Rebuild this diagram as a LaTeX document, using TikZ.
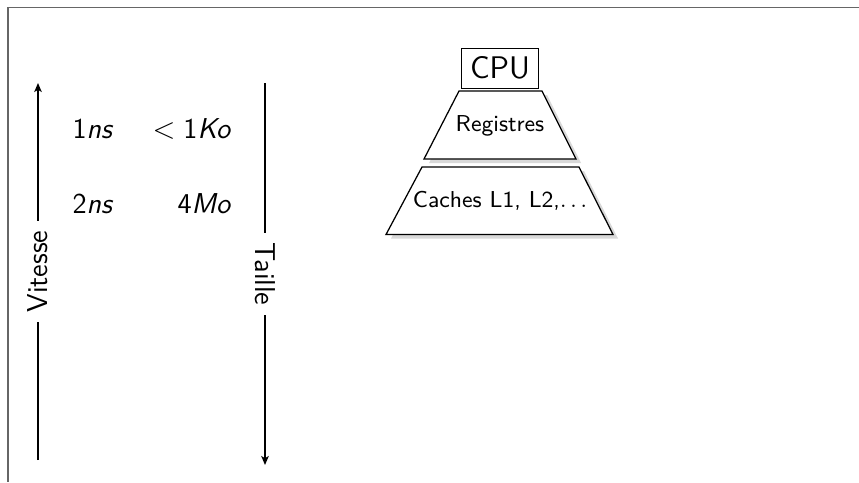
\documentclass[tikz,border=0pt]{standalone}
\usepackage{fontspec}
\usetikzlibrary{shadows,arrows.meta}
\begin{document}
\begin{tikzpicture}[x=0.4pt,y=-0.4pt,
  font=\sffamily\fontsize{11.5}{13.5}\selectfont,
  axisline/.style={line width=0.6pt, -{Stealth[length=3.6pt,width=3pt,inset=0.9pt]}},
  lbl/.style={inner sep=0pt},
  level/.style={draw, line width=0.5pt, fill=white,
    drop shadow={shadow xshift=2pt, shadow yshift=-1.6pt, fill=black!15, opacity=1}},
  smalltext/.style={font=\sffamily\fontsize{9.2}{11}\selectfont}]
\useasboundingbox (0,0) rectangle (859,482);
% frame
\draw[black!60, line width=0.75pt] (859,7.5) -- (8,7.5) -- (8,482);
% axes
\coordinate (vb) at (38,460);
\coordinate (vt) at (38,83);
\coordinate (tt) at (265,83);
\coordinate (tb) at (265,465);
\draw[axisline] (vb) -- node[midway, rotate=90, fill=white, inner sep=4pt] (vit) {Vitesse} (vt);
\draw[axisline] (tt) -- node[midway, rotate=-90, fill=white, inner sep=4pt] (tai) {Taille} (tb);
% values
\node[lbl, anchor=west] (t1) at (72,129) {1\textit{ns}};
\node[lbl, anchor=east] (s1) at (232,129) {$<$\;1\textit{Ko}};
\node[lbl, anchor=west] (t2) at (72,204) {2\textit{ns}};
\node[lbl, anchor=east] (s2) at (232,204) {4\textit{Mo}};
% hierarchy
\node[draw, line width=0.5pt, minimum width=30.8pt, minimum height=16pt, inner sep=0pt,
  font=\sffamily\fontsize{12.5}{14}\selectfont] (cpu) at (500,68.3) {CPU};
\draw[level] (459,91) -- (542,91) -- (576,159) -- (424,159) -- cycle;
\node[smalltext] (reg) at (500,126) {Registres};
\draw[level] (422,167) -- (579,167) -- (613,234.5) -- (386,234.5) -- cycle;
\node[smalltext] (cache) at (500,201) {Caches L1, L2,$\ldots$};
\end{tikzpicture}
\end{document}
